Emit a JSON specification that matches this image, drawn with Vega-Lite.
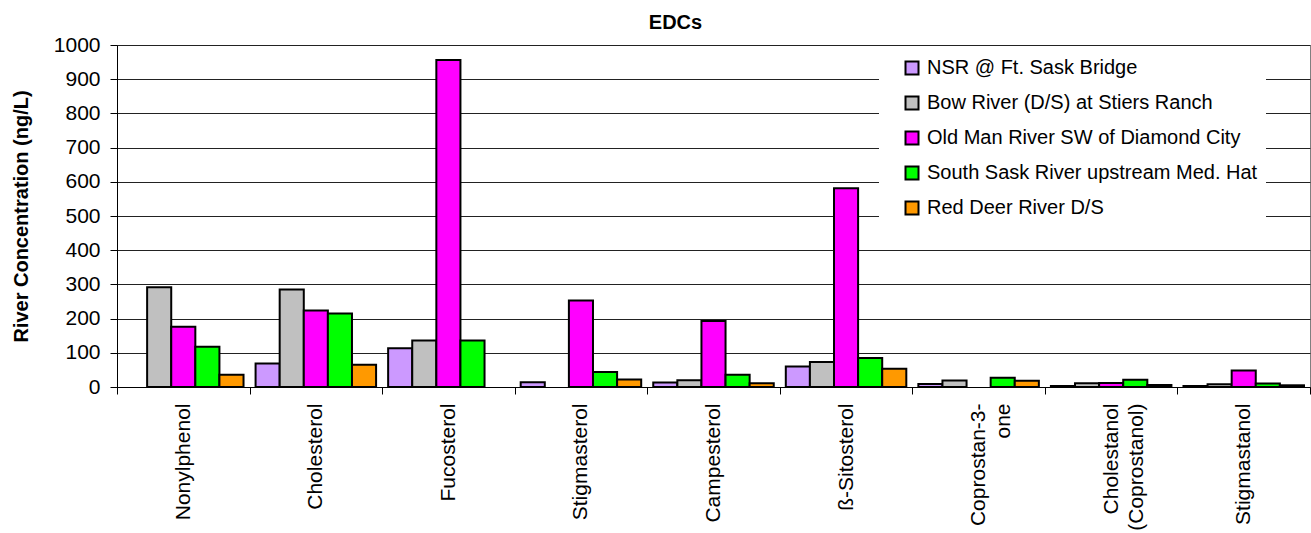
{
  "$schema": "https://vega.github.io/schema/vega-lite/v6.json",
  "autosize": "none",
  "width": 1193,
  "height": 342,
  "padding": {"left": 117, "top": 45, "right": 1, "bottom": 146},
  "background": "white",
  "title": {
    "text": "EDCs",
    "font": "Liberation Sans",
    "fontSize": 20,
    "fontWeight": "bold",
    "color": "black",
    "anchor": "middle",
    "baseline": "alphabetic",
    "dx": -38,
    "dy": 19,
    "offset": 4
  },
  "config": {
    "font": "Liberation Sans",
    "view": {"stroke": "#808080", "strokeWidth": 1},
    "axis": {
      "labelFont": "Liberation Sans",
      "titleFont": "Liberation Sans",
      "labelColor": "black",
      "titleColor": "black",
      "domainColor": "black",
      "tickColor": "black",
      "labelFontSize": 20,
      "titleFontSize": 20,
      "titleFontWeight": "bold"
    },
    "legend": {"labelFont": "Liberation Sans"}
  },
  "data": {
    "values": [
      {"compound": "Nonylphenol", "site": "Bow River (D/S) at Stiers Ranch", "conc": 292},
      {"compound": "Nonylphenol", "site": "Old Man River SW of Diamond City", "conc": 176},
      {"compound": "Nonylphenol", "site": "South Sask River upstream Med. Hat", "conc": 118},
      {"compound": "Nonylphenol", "site": "Red Deer River D/S", "conc": 36},
      {"compound": "Cholesterol", "site": "NSR @ Ft. Sask Bridge", "conc": 69},
      {"compound": "Cholesterol", "site": "Bow River (D/S) at Stiers Ranch", "conc": 285},
      {"compound": "Cholesterol", "site": "Old Man River SW of Diamond City", "conc": 224},
      {"compound": "Cholesterol", "site": "South Sask River upstream Med. Hat", "conc": 215},
      {"compound": "Cholesterol", "site": "Red Deer River D/S", "conc": 65},
      {"compound": "Fucosterol", "site": "NSR @ Ft. Sask Bridge", "conc": 113},
      {"compound": "Fucosterol", "site": "Bow River (D/S) at Stiers Ranch", "conc": 136},
      {"compound": "Fucosterol", "site": "Old Man River SW of Diamond City", "conc": 956},
      {"compound": "Fucosterol", "site": "South Sask River upstream Med. Hat", "conc": 136},
      {"compound": "Stigmasterol", "site": "NSR @ Ft. Sask Bridge", "conc": 14},
      {"compound": "Stigmasterol", "site": "Old Man River SW of Diamond City", "conc": 253},
      {"compound": "Stigmasterol", "site": "South Sask River upstream Med. Hat", "conc": 44},
      {"compound": "Stigmasterol", "site": "Red Deer River D/S", "conc": 22},
      {"compound": "Campesterol", "site": "NSR @ Ft. Sask Bridge", "conc": 13},
      {"compound": "Campesterol", "site": "Bow River (D/S) at Stiers Ranch", "conc": 20},
      {"compound": "Campesterol", "site": "Old Man River SW of Diamond City", "conc": 193},
      {"compound": "Campesterol", "site": "South Sask River upstream Med. Hat", "conc": 36},
      {"compound": "Campesterol", "site": "Red Deer River D/S", "conc": 11},
      {"compound": "ß-Sitosterol", "site": "NSR @ Ft. Sask Bridge", "conc": 60},
      {"compound": "ß-Sitosterol", "site": "Bow River (D/S) at Stiers Ranch", "conc": 73},
      {"compound": "ß-Sitosterol", "site": "Old Man River SW of Diamond City", "conc": 581},
      {"compound": "ß-Sitosterol", "site": "South Sask River upstream Med. Hat", "conc": 85},
      {"compound": "ß-Sitosterol", "site": "Red Deer River D/S", "conc": 53},
      {"compound": "Coprostan-3-one", "site": "NSR @ Ft. Sask Bridge", "conc": 9},
      {"compound": "Coprostan-3-one", "site": "Bow River (D/S) at Stiers Ranch", "conc": 19},
      {"compound": "Coprostan-3-one", "site": "South Sask River upstream Med. Hat", "conc": 27},
      {"compound": "Coprostan-3-one", "site": "Red Deer River D/S", "conc": 18},
      {"compound": "Cholestanol (Coprostanol)", "site": "NSR @ Ft. Sask Bridge", "conc": 3},
      {"compound": "Cholestanol (Coprostanol)", "site": "Bow River (D/S) at Stiers Ranch", "conc": 11},
      {"compound": "Cholestanol (Coprostanol)", "site": "Old Man River SW of Diamond City", "conc": 12},
      {"compound": "Cholestanol (Coprostanol)", "site": "South Sask River upstream Med. Hat", "conc": 21},
      {"compound": "Cholestanol (Coprostanol)", "site": "Red Deer River D/S", "conc": 6},
      {"compound": "Stigmastanol", "site": "NSR @ Ft. Sask Bridge", "conc": 3},
      {"compound": "Stigmastanol", "site": "Bow River (D/S) at Stiers Ranch", "conc": 8},
      {"compound": "Stigmastanol", "site": "Old Man River SW of Diamond City", "conc": 48},
      {"compound": "Stigmastanol", "site": "South Sask River upstream Med. Hat", "conc": 10},
      {"compound": "Stigmastanol", "site": "Red Deer River D/S", "conc": 5}
    ]
  },
  "mark": {"type": "bar", "stroke": "black", "strokeWidth": 2},
  "encoding": {
    "x": {
      "field": "compound",
      "type": "nominal",
      "sort": ["Nonylphenol", "Cholesterol", "Fucosterol", "Stigmasterol", "Campesterol", "ß-Sitosterol", "Coprostan-3-one", "Cholestanol (Coprostanol)", "Stigmastanol"],
      "scale": {"paddingInner": 0, "paddingOuter": 0},
      "axis": {
        "title": null,
        "labelAngle": 270,
        "labelAlign": "right",
        "labelBaseline": "middle",
        "labelPadding": 9,
        "labelFontSize": 21,
        "labelLineHeight": 25,
        "labelExpr": "datum.value == 'Coprostan-3-one' ? ['Coprostan-3-', 'one'] : datum.value == 'Cholestanol (Coprostanol)' ? ['Cholestanol', '(Coprostanol)'] : datum.label",
        "tickBand": "extent",
        "tickSize": 7,
        "labelLimit": 0
      }
    },
    "xOffset": {
      "field": "site",
      "type": "nominal",
      "sort": ["NSR @ Ft. Sask Bridge", "Bow River (D/S) at Stiers Ranch", "Old Man River SW of Diamond City", "South Sask River upstream Med. Hat", "Red Deer River D/S"],
      "scale": {"paddingInner": 0, "paddingOuter": 0.25}
    },
    "y": {
      "field": "conc",
      "type": "quantitative",
      "scale": {"domain": [0, 1000], "nice": false},
      "axis": {
        "title": "River Concentration (ng/L)",
        "values": [0, 100, 200, 300, 400, 500, 600, 700, 800, 900, 1000],
        "format": "d",
        "grid": true,
        "gridColor": "#222222",
        "gridWidth": 1,
        "tickSize": 7,
        "labelPadding": 10,
        "labelFontSize": 21,
        "titlePadding": 22
      }
    },
    "color": {
      "field": "site",
      "type": "nominal",
      "sort": ["NSR @ Ft. Sask Bridge", "Bow River (D/S) at Stiers Ranch", "Old Man River SW of Diamond City", "South Sask River upstream Med. Hat", "Red Deer River D/S"],
      "scale": {
        "domain": ["NSR @ Ft. Sask Bridge", "Bow River (D/S) at Stiers Ranch", "Old Man River SW of Diamond City", "South Sask River upstream Med. Hat", "Red Deer River D/S"],
        "range": ["#CC99FF", "#C0C0C0", "#FF00FF", "#00FF00", "#FF9900"]
      },
      "legend": {
        "title": null,
        "orient": "none",
        "legendX": 762,
        "legendY": 5,
        "padding": 8,
        "fillColor": "white",
        "symbolType": "square",
        "symbolSize": 169,
        "symbolStrokeColor": "black",
        "symbolStrokeWidth": 2,
        "symbolOpacity": 1,
        "symbolOffset": 15,
        "labelOffset": 5,
        "labelFontSize": 20,
        "labelColor": "black",
        "labelLimit": 0,
        "rowPadding": 13
      }
    }
  }
}
